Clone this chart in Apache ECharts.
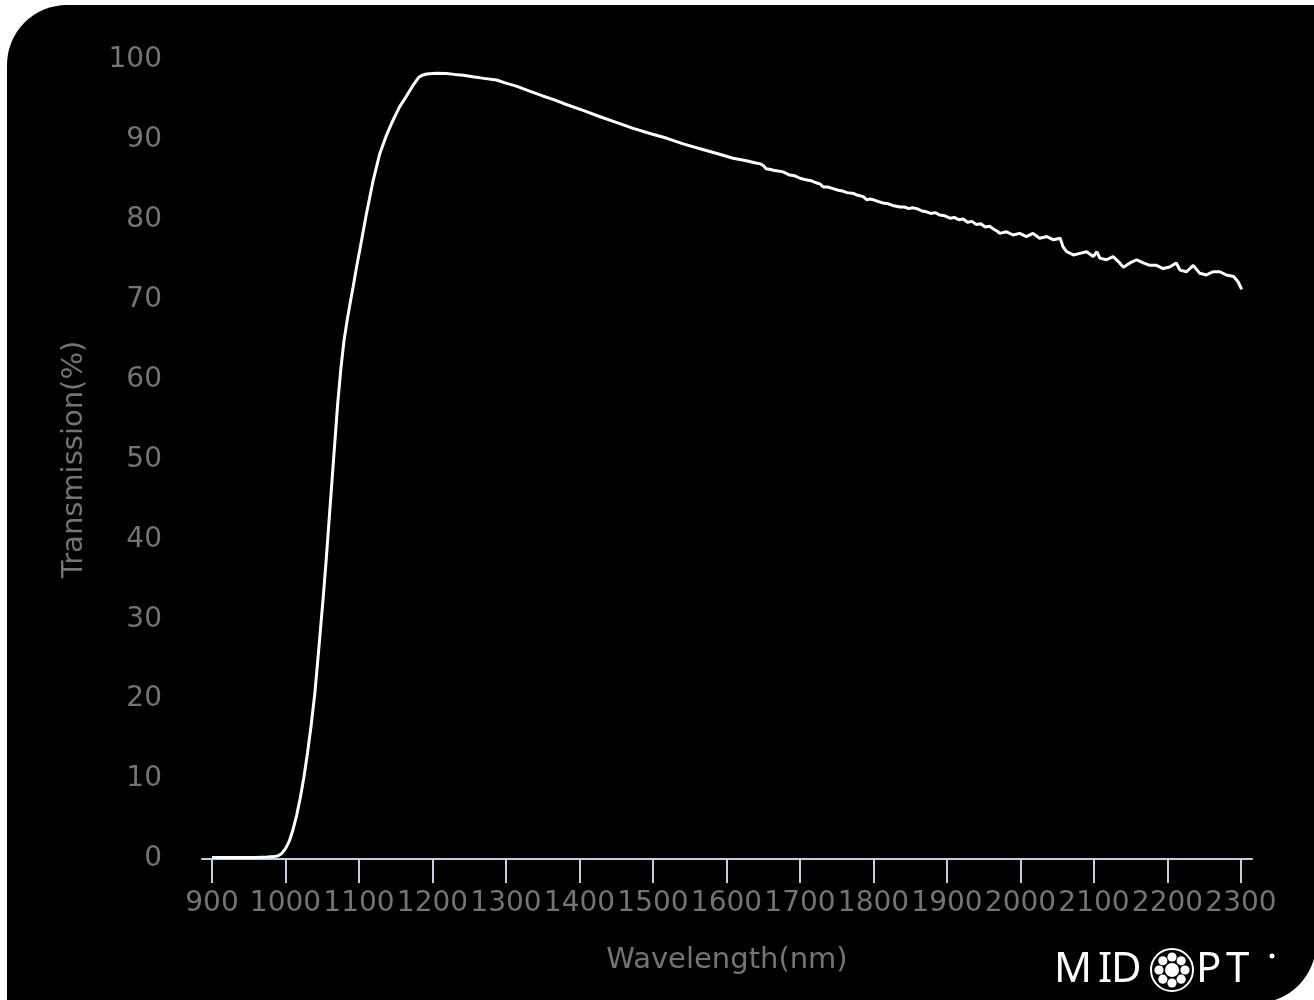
<!DOCTYPE html>
<html>
<head>
<meta charset="utf-8">
<script src="https://cdn.jsdelivr.net/npm/echarts@6/dist/echarts.min.js"></script>
<style>
html,body{margin:0;padding:0;background:#fff;}
#chart{width:1314px;height:1000px;}
</style>
</head>
<body>
<div id="chart"></div>
<script>
// Wavelength (nm)
var wavelengths = [
 900,920,940,960,975,985,990,995,1000,1005,
 1010,1015,1020,1025,1030,1035,1040,1045,1051,1055,
 1059,1063,1067,1071,1075.5,1079.5,1084,1088,1092,1096.5,
 1101,1110,1119,
 1128,1137,1146,1155,1164,1174,1181,1186,1192,1205,
 1219,1230,1242,1255,1270,1287,1300,1315,1332,1350,
 1366,1383,1405,1428,1450,1473,1496,1519,1541,1564,
 1587,1609,1627,1640,1646,1650,1654,1660,1664,1670,
 1677,1686,1693,1700,1708,1715,1723,1727,1732,1738,
 1745,1752,1758,1764,1773,1777,1782,1786,1791,1795,
 1800,1806,1813,1820,1826,1836,1842,1848,1853,1859,
 1866,1872,1878,1884,1890,1897,1904,1910,1916,1922,
 1928,1934,1940,1946,1952,1958,1964,1968,1972,1981,
 1990,1999,2008,2017,2026,2036,2045,2054,2058,2063,
 2072,2081,2090,2099,2104,2108,2117,2126,2135,2140,
 2149,2158,2167,2176,2185,2194,2203,2212,2217,2226,
 2235,2244,2253,2262,2271,2280,2290,2296,2301
];
// Transmission (%)
var transmission = [
 0.2,0.2,0.2,0.2,0.25,0.3,0.4,0.7,1.3,2.2,
 3.6,5.4,7.6,10.2,13.3,16.8,20.8,26.0,32.4,37,
 42,47,52,57,61.5,64.8,67.5,69.6,71.6,74.0,
 76.2,80.7,84.8,
 88.2,90.5,92.4,94.1,95.4,96.9,97.8,98.1,98.25,98.35,
 98.3,98.2,98.1,97.9,97.7,97.5,97.1,96.7,96.1,95.5,
 95.0,94.4,93.7,92.9,92.2,91.45,90.8,90.2,89.5,88.9,
 88.3,87.7,87.4,87.1,87.0,86.8,86.4,86.3,86.2,86.1,
 86.0,85.6,85.5,85.2,85.0,84.9,84.6,84.5,84.1,84.1,
 83.9,83.7,83.6,83.4,83.3,83.1,83.0,82.9,82.5,82.6,
 82.5,82.3,82.1,82.0,81.8,81.6,81.6,81.4,81.5,81.4,
 81.1,81.0,80.8,80.9,80.6,80.5,80.2,80.3,80.0,80.1,
 79.7,79.8,79.4,79.5,79.1,79.2,78.8,78.6,78.3,78.5,
 78.1,78.3,77.9,78.3,77.7,77.9,77.5,77.7,76.6,76.0,
 75.6,75.8,76.0,75.4,76.0,75.2,75.0,75.4,74.6,74.05,
 74.6,75.0,74.6,74.3,74.3,73.9,74.1,74.6,73.7,73.5,
 74.3,73.3,73.1,73.5,73.5,73.1,72.9,72.25,71.3
];
var xTickValues = [900,1000,1100,1200,1300,1400,1500,1600,1700,1800,1900,2000,2100,2200,2300];
var xLabelValues = [900,1000,1100,1200,1300,1400,1500,1600,1700,1800,1900,2000,2100,2200,2300];

var points = wavelengths.map(function(w,i){return [w, transmission[i]];});
var chart = echarts.init(document.getElementById('chart'));
var labelFont = 'DejaVu Sans';
var gray = '#747474';
var axisColor = '#C0D0E0';
var logoFont = '42px "Noto Sans"';

// logo ring dots
var dots = [];
for (var k = 0; k < 8; k++) {
  var a = k * Math.PI / 4;
  dots.push({type:'circle', shape:{cx:1172 + 13*Math.cos(a), cy:970 + 13*Math.sin(a), r:4.6}, style:{fill:'#fff'}});
}

chart.setOption({
  backgroundColor: '#ffffff',
  animation: false,
  grid: {left: 202, right: 62, top: 60, bottom: 141, containLabel: false},
  xAxis: {
    type: 'value',
    min: 886.4,
    max: 2315,
    name: 'Wavelength(nm)',
    nameLocation: 'middle',
    nameGap: 87,
    nameTextStyle: {color: gray, fontFamily: labelFont, fontSize: 29},
    axisLine: {show: true, lineStyle: {color: axisColor, width: 2}},
    axisTick: {show: true, customValues: xTickValues, length: 24, lineStyle: {color: axisColor, width: 2}},
    axisLabel: {customValues: xLabelValues, showMaxLabel: true, showMinLabel: true, hideOverlap: false,
      color: gray, fontFamily: labelFont, fontSize: 28, margin: 31,
      formatter: function(v){ return String(Math.round(v)); }},
    splitLine: {show: false}
  },
  yAxis: {
    type: 'value',
    min: 0,
    max: 100,
    interval: 10,
    name: 'Transmission(%)',
    nameLocation: 'middle',
    nameGap: 113,
    nameTextStyle: {color: gray, fontFamily: labelFont, fontSize: 29},
    axisLine: {show: false},
    axisTick: {show: false},
    axisLabel: {color: gray, fontFamily: labelFont, fontSize: 28, margin: 40},
    splitLine: {show: false}
  },
  graphic: [
    {type:'rect', z:-10, silent:true, shape:{x:7, y:5, width:1309, height:998, r:[60,0,60,0]}, style:{fill:'#000'}},
    {type:'text', z:10, left:1054, top:949, style:{text:'M', fill:'#fff', font:logoFont}},
    {type:'text', z:10, left:1098, top:949, style:{text:'I', fill:'#fff', font:logoFont}},
    {type:'text', z:10, left:1111, top:949, style:{text:'D', fill:'#fff', font:logoFont}},
    {type:'text', z:10, left:1196, top:949, style:{text:'P', fill:'#fff', font:logoFont}},
    {type:'text', z:10, left:1226, top:949, style:{text:'T', fill:'#fff', font:logoFont}},
    {type:'circle', z:10, shape:{cx:1172, cy:970, r:21}, style:{fill:'none', stroke:'#fff', lineWidth:2}},
    {type:'circle', z:10, shape:{cx:1172, cy:970, r:7}, style:{fill:'#fff'}},
    {type:'group', z:10, children: dots},
    {type:'circle', z:10, shape:{cx:1272, cy:956, r:2.5}, style:{fill:'#fff'}}
  ],
  series: [{
    type: 'line',
    data: points,
    showSymbol: false,
    smooth: false,
    lineStyle: {color: '#ffffff', width: 3},
    z: 5
  }]
});
</script>
</body>
</html>
